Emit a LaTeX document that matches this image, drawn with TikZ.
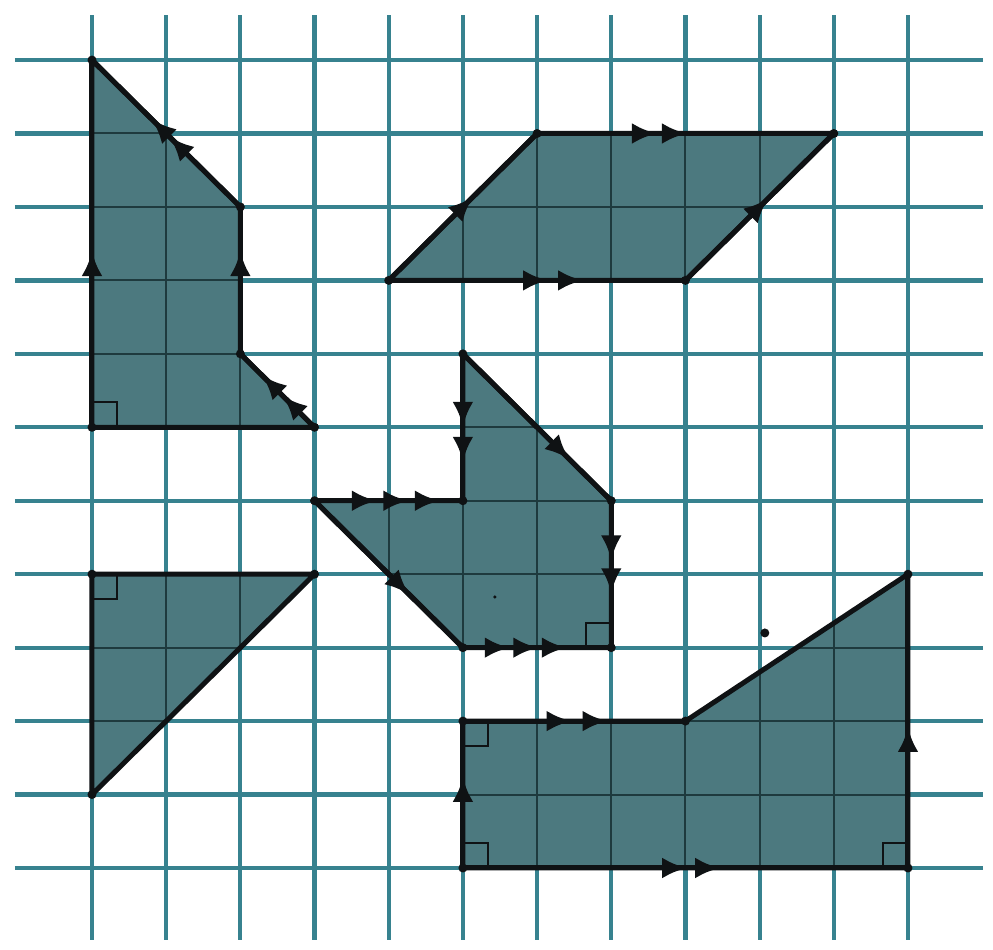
\documentclass[tikz,border=0pt]{standalone}
\usetikzlibrary{decorations.markings,arrows.meta}
\definecolor{gridc}{RGB}{55,130,143}
\definecolor{fillc}{RGB}{76,121,127}
\definecolor{innerc}{RGB}{30,58,62}
\definecolor{inkc}{RGB}{15,18,20}
\tikzset{
  gridline/.style={draw=gridc, line width=0.085cm},
  innergrid/.style={draw=innerc, line width=0.04cm},
  shapefill/.style={fill=fillc},
  outline/.style={draw=inkc, line width=0.1cm, line join=round, line cap=round},
  mytip/.tip={Latex[length=0.5cm,width=0.42cm]},
  arrA/.style={postaction={decorate,decoration={markings,
      mark=at position #1 with {\arrow{mytip}}}}},
  arrB/.style 2 args={postaction={decorate,decoration={markings,
      mark=at position #1 with {\arrow{mytip}\pgftransformxshift{-#2}\arrow{mytip}}}}},
  arrC/.style 2 args={postaction={decorate,decoration={markings,
      mark=at position #1 with {\arrow{mytip}\pgftransformxshift{-#2}\arrow{mytip}\pgftransformxshift{-#2}\arrow{mytip}}}}},
  rightang/.style={draw=inkc, line width=0.045cm},
  vdot/.style={fill=inkc}
}
\newcommand\innerlines{%
  \foreach \k in {0,...,11}{\draw[innergrid] (\k,-1)--(\k,12); \draw[innergrid] (-1,\k)--(12,\k);}}
\begin{document}
\begin{tikzpicture}[x=1.4836cm, y=1.469cm]
\useasboundingbox (-1.2402,-1.1164) rectangle (12.1461,11.8176);
\fill[white] (-1.2402,-1.1164) rectangle (12.1461,11.8176);
% grid
\foreach \i in {0,...,11} \draw[gridline] (\i,-0.98) -- (\i,11.61);
\foreach \j in {0,...,11} \draw[gridline] (-1.04,\j) -- (12.01,\j);

% ---------- shape 1
\coordinate (A1) at (0,11); \coordinate (B1) at (2,9); \coordinate (C1) at (2,7);
\coordinate (D1) at (3,6); \coordinate (E1) at (0,6);
\path[shapefill] (A1)--(B1)--(C1)--(D1)--(E1)--cycle;
\begin{scope} \clip (A1)--(B1)--(C1)--(D1)--(E1)--cycle; \innerlines \end{scope}
\draw[outline] (A1)--(B1)--(C1)--(D1)--(E1)--cycle;
\draw[outline, arrA=0.48] (E1)--(A1);
\draw[outline, arrA=0.70] (C1)--(B1);
\draw[outline, arrB={0.6}{0.5cm}] (B1)--(A1);
\draw[outline, arrB={0.71}{0.58cm}] (D1)--(C1);
\draw[rightang] (E1) rectangle ++(0.5cm,0.5cm);
\foreach \p in {A1,B1,C1,D1,E1} \fill[vdot] (\p) circle (0.09cm);

% ---------- shape 2
\coordinate (A2) at (4,8); \coordinate (B2) at (6,10); \coordinate (C2) at (10,10);
\coordinate (D2) at (8,8);
\path[shapefill] (A2)--(B2)--(C2)--(D2)--cycle;
\begin{scope} \clip (A2)--(B2)--(C2)--(D2)--cycle; \innerlines \end{scope}
\draw[outline] (A2)--(B2)--(C2)--(D2)--cycle;
\draw[outline, arrA=0.57] (A2)--(B2);
\draw[outline, arrA=0.56] (D2)--(C2);
\draw[outline, arrB={0.505}{0.6cm}] (B2)--(C2);
\draw[outline, arrB={0.655}{0.7cm}] (A2)--(D2);
\foreach \p in {A2,B2,C2,D2} \fill[vdot] (\p) circle (0.09cm);

% ---------- shape 3
\coordinate (A3) at (0,4); \coordinate (B3) at (3,4); \coordinate (C3) at (0,1);
\path[shapefill] (A3)--(B3)--(C3)--cycle;
\begin{scope} \clip (A3)--(B3)--(C3)--cycle; \innerlines \end{scope}
\draw[outline] (A3)--(B3)--(C3)--cycle;
\draw[rightang] (A3) rectangle ++(0.5cm,-0.5cm);
\foreach \p in {A3,B3,C3} \fill[vdot] (\p) circle (0.09cm);

% ---------- shape 4
\coordinate (A4) at (5,7); \coordinate (B4) at (7,5); \coordinate (C4) at (7,3);
\coordinate (D4) at (5,3); \coordinate (E4) at (3,5); \coordinate (F4) at (5,5);
\path[shapefill] (A4)--(B4)--(C4)--(D4)--(E4)--(F4)--cycle;
\begin{scope} \clip (A4)--(B4)--(C4)--(D4)--(E4)--(F4)--cycle; \innerlines \end{scope}
\draw[outline] (A4)--(B4)--(C4)--(D4)--(E4)--(F4)--cycle;
\draw[outline, arrB={0.735}{0.7cm}] (A4)--(F4);
\draw[outline, arrA=0.72] (A4)--(B4);
\draw[outline, arrB={0.63}{0.66cm}] (B4)--(C4);
\draw[outline, arrC={0.70}{0.57cm}] (D4)--(C4);
\draw[outline, arrC={0.845}{0.63cm}] (E4)--(F4);
\draw[outline, arrA=0.64] (E4)--(D4);
\draw[rightang] (C4) rectangle ++(-0.5cm,0.5cm);
\foreach \p in {A4,B4,C4,D4,E4,F4} \fill[vdot] (\p) circle (0.09cm);
\fill[inkc] (5.43,3.69) circle (0.035cm);

% ---------- shape 5
\coordinate (A5) at (5,0); \coordinate (B5) at (5,2); \coordinate (C5) at (8,2);
\coordinate (D5) at (11,4); \coordinate (E5) at (11,0);
\path[shapefill] (A5)--(B5)--(C5)--(D5)--(E5)--cycle;
\begin{scope} \clip (A5)--(B5)--(C5)--(D5)--(E5)--cycle; \innerlines \end{scope}
\draw[outline] (A5)--(B5)--(C5)--(D5)--(E5)--cycle;
\draw[outline, arrA=0.62] (A5)--(B5);
\draw[outline, arrB={0.65}{0.72cm}] (B5)--(C5);
\draw[outline, arrA=0.48] (E5)--(D5);
\draw[outline, arrB={0.578}{0.66cm}] (A5)--(E5);
\draw[rightang] (B5) rectangle ++(0.5cm,-0.5cm);
\draw[rightang] (A5) rectangle ++(0.5cm,0.5cm);
\draw[rightang] (E5) rectangle ++(-0.5cm,0.5cm);
\foreach \p in {A5,B5,C5,D5,E5} \fill[vdot] (\p) circle (0.09cm);

% stray speck
\fill[inkc] (9.07,3.2) circle (0.09cm);
\end{tikzpicture}
\end{document}
